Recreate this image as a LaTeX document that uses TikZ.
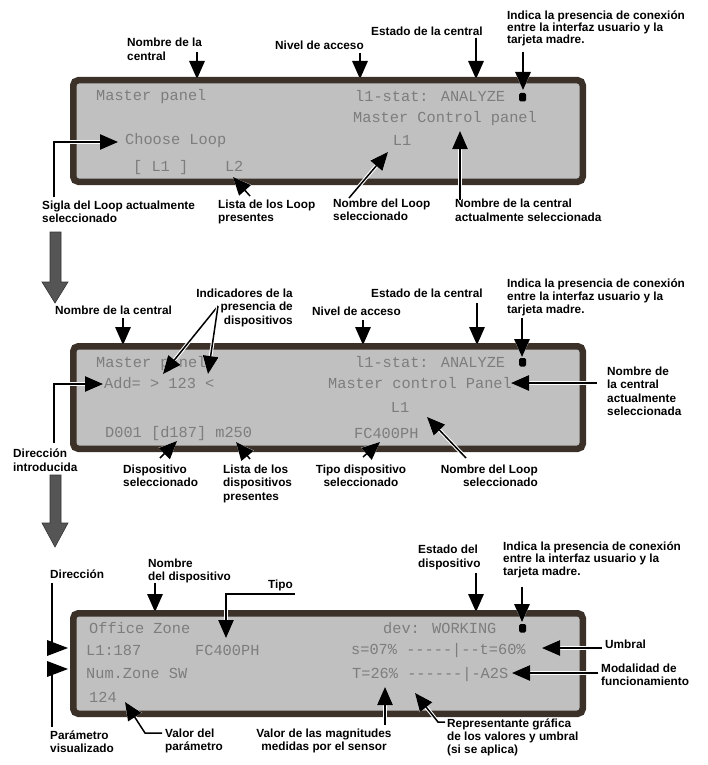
\documentclass[tikz,border=0pt]{standalone}
\usepackage{fontspec}
\setmainfont{Liberation Sans}
\newfontfamily\lcdfont{Liberation Mono}
\usetikzlibrary{arrows.meta}
\definecolor{framec}{HTML}{3B3129}
\definecolor{lcdbg}{HTML}{C0C0C0}
\definecolor{lcdtxt}{HTML}{7D7D7D}
\definecolor{bigarr}{HTML}{555555}
\begin{document}
\begin{tikzpicture}[x=1pt,y=-1pt,
  lbl/.style={font=\fontsize{11.8}{13}\selectfont\bfseries, inner sep=0pt, align=left, anchor=base west},
  lcd/.style={font=\lcdfont\fontsize{15.3}{16}\selectfont, text=lcdtxt, inner sep=0pt, anchor=base west},
  panel/.style={draw=framec, line width=6.5pt, fill=lcdbg, rounded corners=5pt},
  arr/.style={draw=black, line width=1.5pt, -{Triangle[length=18pt,width=15.5pt]},
     preaction={draw=white, line width=3.6pt, -{Triangle[length=18pt,width=15.5pt]}}},
  led/.style={fill=black, rounded corners=1.5pt},
  bigarrow/.style={fill=bigarr, draw=black!80, line width=0.6pt}
]
\useasboundingbox (0,0) rectangle (708,765);
\fill[white] (0,0) rectangle (708,765);

% ---------------- Panel 1 ----------------
\draw[panel] (73.25,80.25) rectangle (582.75,181.75);
\node[lcd] (p1a) at (96,101) {Master panel};
\node[lcd] (p1b) at (355,102) {l1-stat: ANALYZE};
\node[lcd] (p1c) at (353,123) {Master Control panel};
\node[lcd] (p1d) at (125,144) {Choose Loop};
\node[lcd,anchor=base] (p1e) at (402,145) {L1};
\node[lcd] (p1f) at (133,171) {[~L1~]~~~~L2};
\fill[led] (519,93) rectangle (526,101.5);

\node[lbl,font=\fontsize{11.8}{14}\selectfont\bfseries] (l1a) at (127,61) {Nombre de la\\central};
\draw[arr] (197,52) -- (197,79);
\node[lbl] (l1b) at (275,50) {Nivel de acceso};
\draw[arr] (360,53) -- (360,79);
\node[lbl] (l1c) at (371,36) {Estado de la central};
\draw[arr] (476,38) -- (476,79);
\node[lbl,font=\fontsize{11.8}{12}\selectfont\bfseries] (l1d) at (507,44) {Indica la presencia de conexión\\entre la interfaz usuario y la\\tarjeta madre.};
\draw[arr] (523,52) -- (523,90);

\node[lbl] (l1e) at (42,222) {Sigla del Loop actualmente\\seleccionado};
\draw[arr] (54,197) |- (118,142);
\node[lbl] (l1f) at (218,221) {Lista de los Loop\\presentes};
\draw[arr] (250,196) -- (233,177);
\node[lbl] (l1g) at (333,220) {Nombre del Loop\\seleccionado};
\draw[arr] (349,198) -- (388,152);
\node[lbl,font=\fontsize{11.8}{14}\selectfont\bfseries] (l1h) at (455,221) {Nombre de la central\\actualmente seleccionada};
\draw[arr] (460,200) -- (460,131);

\draw[bigarrow] (50,232) -- (61,232) -- (61,282) -- (68,282) -- (55,303) -- (42,282) -- (50,282) -- cycle;

% ---------------- Panel 2 ----------------
\draw[panel] (73.25,346.25) rectangle (582.75,448.75);
\node[lcd] (p2a) at (96,367) {Master panel};
\node[lcd] (p2b) at (104,388) {Add= > 123 <};
\node[lcd] (p2c) at (105,437) {D001 [d187] m250};
\node[lcd] (p2d) at (355,367) {l1-stat: ANALYZE};
\node[lcd] (p2e) at (328,388) {Master control Panel};
\node[lcd,anchor=base] (p2f) at (400,412) {L1};
\node[lcd] (p2g) at (354,438) {FC400PH};
\fill[led] (519,358) rectangle (526,366.5);

\node[lbl] (l2a) at (55,314) {Nombre de la central};
\draw[arr] (123,318) -- (123,345);
\node[lbl,align=right,anchor=base east,font=\fontsize{11.8}{13.5}\selectfont\bfseries] (l2b) at (293,324) {Indicadores de la\\presencia de\\dispositivos};
\draw[arr] (218,306) -- (163,374);
\draw[arr] (218,306) -- (208,374);
\node[lbl] (l2c) at (312,315) {Nivel de acceso};
\draw[arr] (363,320) -- (363,345);
\node[lbl] (l2d) at (371,297) {Estado de la central};
\draw[arr] (477,303) -- (477,345);
\node[lbl] (l2e) at (507,313) {Indica la presencia de conexión\\entre la interfaz usuario y la\\tarjeta madre.};
\draw[arr] (522,318) -- (522,357);
\node[lbl,font=\fontsize{11.8}{13.5}\selectfont\bfseries] (l2f) at (607,415.5) {Nombre de\\la central\\actualmente\\seleccionada};
\draw[arr] (597,383) -- (511,383);
\node[lbl,font=\fontsize{11.8}{14}\selectfont\bfseries] (l2g) at (13,471) {Dirección\\introducida};
\draw[arr] (54,443) |- (103,384);
\node[lbl] (l2h) at (123,486) {Dispositivo\\seleccionado};
\draw[arr] (160,458) -- (177,441);
\node[lbl,font=\fontsize{11.8}{13.5}\selectfont\bfseries] (l2i) at (223,500) {Lista de los\\dispositivos\\presentes};
\draw[arr] (250,459) -- (236,442);
\node[lbl,align=center,anchor=base] (l2j) at (361,486) {Tipo dispositivo\\seleccionado};
\draw[arr] (363,457) -- (380,442);
\node[lbl,align=right,anchor=base east] (l2k) at (538,486) {Nombre del Loop\\seleccionado};
\draw[arr] (466,458) -- (427,417);

\draw[bigarrow] (50,475) -- (61,475) -- (61,523) -- (68,523) -- (55,547) -- (42,523) -- (50,523) -- cycle;

% ---------------- Panel 3 ----------------
\draw[panel] (73.25,613.25) rectangle (582.75,713.75);
\node[lcd] (p3a) at (89,633) {Office Zone};
\node[lcd] (p3b) at (86,655) {L1:187};
\node[lcd] (p3c) at (195,655) {FC400PH};
\node[lcd] (p3d) at (86,678) {Num.Zone SW};
\node[lcd] (p3e) at (89,702) {124};
\node[lcd] (p3f) at (383,633) {dev: WORKING};
\node[lcd] (p3g) at (351,654) {s=07\% -----|--t=60\%};
\node[lcd] (p3h) at (352,678) {T=26\% ------|-A2S};
\fill[led] (519,624) rectangle (526,632.5);

\node[lbl] (l3a) at (50,578) {Dirección};
\coordinate (d1) at (52,648);
\draw[line width=1.5pt] (52,583) -- (d1);
\fill (47,640) -- (68,648) -- (47,656) -- cycle;
\node[lbl] (l3b) at (50,752) {Parámetro\\visualizado};
\coordinate (d2) at (52,669);
\draw[line width=1.5pt] (52,727) -- (d2);
\fill (47,661) -- (68,669) -- (47,677) -- cycle;
\node[lbl] (l3c) at (148,580) {Nombre\\del dispositivo};
\draw[arr] (155,583) -- (155,612);
\node[lbl] (l3d) at (268,588) {Tipo};
\draw[arr] (295,594) -| (226,638);
\node[lbl,font=\fontsize{11.8}{14}\selectfont\bfseries] (l3e) at (418,567) {Estado del\\dispositivo};
\draw[arr] (476,573) -- (476,612);
\node[lbl,font=\fontsize{11.8}{12.5}\selectfont\bfseries] (l3f) at (503,575) {Indica la presencia de conexión\\entre la interfaz usuario y la\\tarjeta madre.};
\draw[arr] (522,587) -- (522,622);
\node[lbl] (l3g) at (605,648) {Umbral};
\draw[arr] (602,648) -- (542,648);
\node[lbl] (l3h) at (601,685) {Modalidad de\\funcionamiento};
\draw[arr] (598,673) -- (512,673);
\node[lbl] (l3i) at (165,750) {Valor del\\parámetro};
\draw[arr] (162,733) -- (145,733) -- (125,702);
\node[lbl,align=center,anchor=base] (l3j) at (324,750) {Valor de las magnitudes\\medidas por el sensor};
\draw[arr] (385,725) -- (385,687);
\node[lbl] (l3k) at (447,753) {Representante gráfica\\de los valores y umbral\\(si se aplica)};
\draw[arr] (445,722) -- (438,722) -- (415,693);
\end{tikzpicture}
\end{document}
